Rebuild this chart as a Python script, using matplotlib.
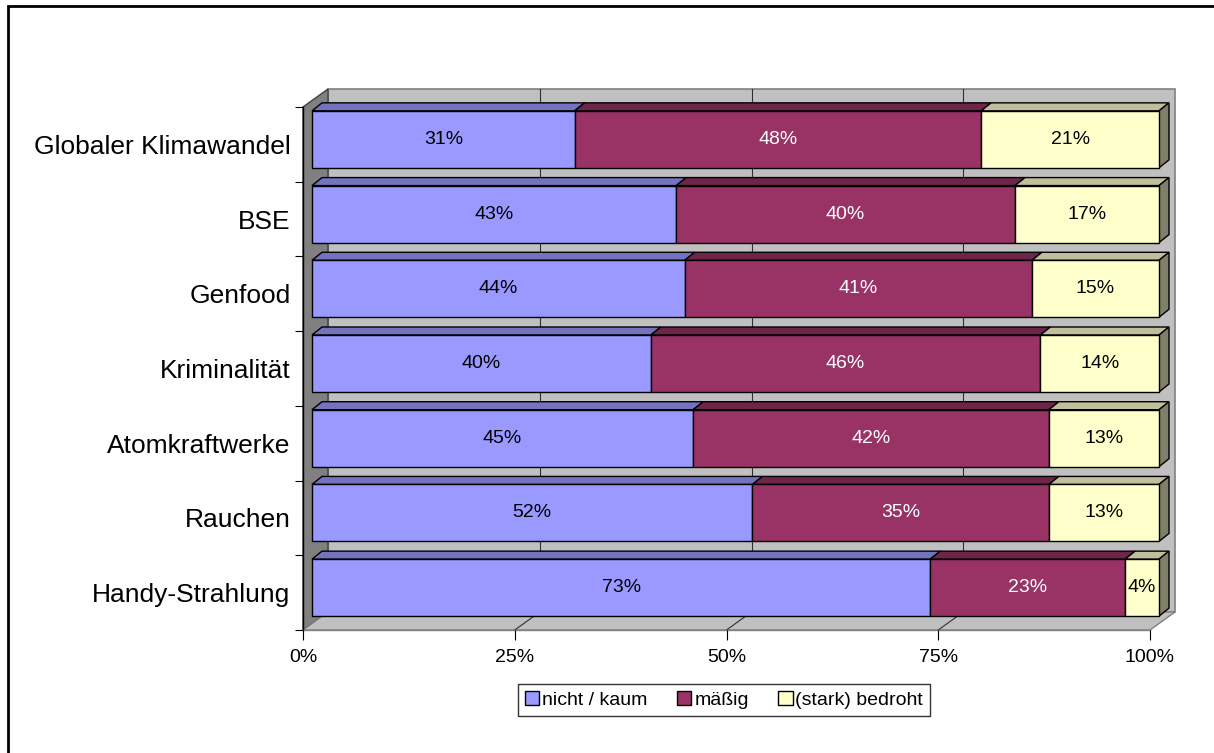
import matplotlib
matplotlib.use("Agg")
import matplotlib.pyplot as plt
import numpy as np
from matplotlib.patches import Polygon, Patch, Rectangle

plt.rcParams["font.family"] = ["Liberation Sans", "DejaVu Sans"]

categories = ["Globaler Klimawandel", "BSE", "Genfood", "Kriminalität",
              "Atomkraftwerke", "Rauchen", "Handy-Strahlung"]
nicht_kaum = [31, 43, 44, 40, 45, 52, 73]
maessig    = [48, 40, 41, 46, 42, 35, 23]
bedroht    = [21, 17, 15, 14, 13, 13, 4]
series_names = ["nicht / kaum", "mäßig", "(stark) bedroht"]
xtick_vals = [0, 25, 50, 75, 100]

_FRONT = ["#9999ff", "#993366", "#ffffcc"]
_TOP   = ["#7373bf", "#6e2549", "#bfbf99"]
_SIDE  = ["#5c5c99", "#4d1a33", "#80806a"]
_TXTC  = ["black", "white", "black"]
_WALL  = "#c0c0c0"
_WALL2 = "#808080"

W, H = 1214, 753
fig = plt.figure(figsize=(W / 100, H / 100), dpi=100, facecolor="white")

# front plane of the plot area in pixels
x0px, x1px, y0px, y1px = 303, 1150, 107, 630
ax = fig.add_axes([x0px / W, 1 - y1px / H, (x1px - x0px) / W, (y1px - y0px) / H])
n = len(categories)
ax.set_xlim(0, 1)
ax.set_ylim(n - 0.5, -0.5)
ax.set_facecolor("none")

# pixel -> data conversion
sx = 1 / (x1px - x0px)
sy = n / (y1px - y0px)

DX, DY = 25 * sx, -18 * sy          # full depth of the walls
FX, FY = 9 * sx, -5 * sy            # bar front face offset
BX, BY = 10 * sx, -8 * sy           # bar depth
BH = 57 * sy                        # bar height

lo, hi = -0.5, n - 0.5

# back wall
ax.add_patch(Polygon([(DX, lo + DY), (1 + DX, lo + DY), (1 + DX, hi + DY), (DX, hi + DY)],
                     closed=True, facecolor=_WALL, edgecolor=_WALL2, lw=1.2,
                     zorder=0.5, clip_on=False))
# left wall
ax.add_patch(Polygon([(0, lo), (DX, lo + DY), (DX, hi + DY), (0, hi)],
                     closed=True, facecolor=_WALL2, edgecolor="#404040", lw=1.0,
                     zorder=0.6, clip_on=False))
# floor
ax.add_patch(Polygon([(0, hi), (1, hi), (1 + DX, hi + DY), (DX, hi + DY)],
                     closed=True, facecolor=_WALL, edgecolor=_WALL2, lw=1.0,
                     zorder=0.6, clip_on=False))

# gridlines on wall and floor
for v in xtick_vals[1:-1]:
    xv = v / 100
    ax.plot([xv + DX, xv + DX], [lo + DY, hi + DY], color="#303030", lw=0.8,
            zorder=0.7, clip_on=False)
    ax.plot([xv, xv + DX], [hi, hi + DY], color="#303030", lw=0.8,
            zorder=0.7, clip_on=False)

# bars
data = np.array([nicht_kaum, maessig, bedroht], dtype=float)
for i in range(n):
    left = 0.0
    ytop = i - BH / 2 + FY
    ybot = i + BH / 2 + FY
    for k in range(3):
        w = data[k, i] / 100
        ax.barh(i + FY, w, left=left + FX, height=BH, color=_FRONT[k],
                edgecolor="black", lw=1.0, zorder=3 + i * 0.01, clip_on=False)
        a, b = left + FX, left + w + FX
        ax.add_patch(Polygon([(a, ytop), (b, ytop), (b + BX, ytop + BY), (a + BX, ytop + BY)],
                             closed=True, facecolor=_TOP[k], edgecolor="black",
                             lw=1.0, zorder=2.9 + i * 0.01, clip_on=False))
        if k == 2:
            ax.add_patch(Polygon([(b, ytop), (b + BX, ytop + BY), (b + BX, ybot + BY), (b, ybot)],
                                 closed=True, facecolor=_SIDE[k], edgecolor="black",
                                 lw=1.0, zorder=2.9 + i * 0.01, clip_on=False))
        ax.text(left + w / 2 + FX, i + FY, f"{int(data[k, i])}%", ha="center",
                va="center", fontsize=14, color=_TXTC[k], zorder=5)
        left += w

# axes, ticks
for s in ["top", "right"]:
    ax.spines[s].set_visible(False)
ax.spines["left"].set_color("black")
ax.spines["left"].set_linewidth(1.0)
ax.spines["left"].set_zorder(1)
ax.spines["bottom"].set_color(_WALL2)
ax.spines["bottom"].set_linewidth(1.0)
ax.spines["bottom"].set_zorder(1)

ax.set_xticks([v / 100 for v in xtick_vals])
ax.set_xticklabels([f"{v}%" for v in xtick_vals], fontsize=14)
ax.tick_params(axis="x", length=7.5, width=0.8, color="black", pad=6.5)

ax.set_yticks(np.arange(n))
ax.set_yticklabels(categories, fontsize=19)
ax.set_yticks(np.arange(n + 1) - 0.5, minor=True)
ax.tick_params(axis="y", which="major", length=0, pad=9)
ax.tick_params(axis="y", which="minor", length=6, width=0.8, color="black")

# legend
handles = [Patch(facecolor=c, edgecolor="black", lw=1.0) for c in _FRONT]
leg = fig.legend(handles, series_names, ncol=3, loc="center",
                 bbox_to_anchor=(724 / W, 1 - 700 / H), fontsize=14,
                 frameon=True, fancybox=False, edgecolor="black",
                 handlelength=0.75, handleheight=0.75, handletextpad=0.15,
                 columnspacing=1.5, borderpad=0.35, borderaxespad=0)
leg.get_frame().set_linewidth(1.0)

# outer chart frame (only left and top visible)
fig.patches.append(Rectangle((8 / W, -0.2), 2, 1.2 - 6 / H, transform=fig.transFigure,
                             fill=False, edgecolor="black", lw=2.0))

fig.savefig("out.png", dpi=100, facecolor="white")
